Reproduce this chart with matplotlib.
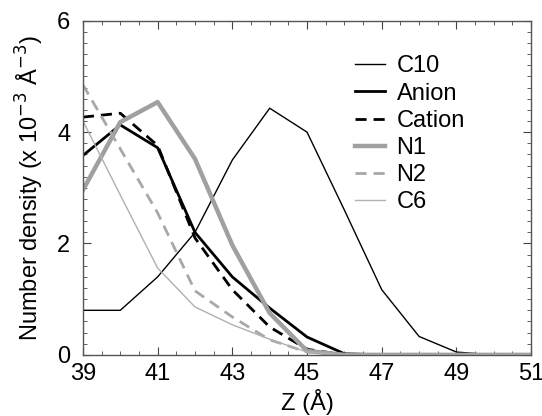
import numpy as np
import matplotlib.pyplot as plt
from matplotlib.ticker import MultipleLocator

plt.rcParams['font.family'] = ['Liberation Sans', 'DejaVu Sans']

z = [39, 40, 41, 42, 43, 44, 45, 46, 47, 48, 49, 50, 51]
c10 = [0.8, 0.8, 1.4, 2.2, 3.5, 4.43, 4.0, 2.6, 1.17, 0.33, 0.05, 0.0, 0.0]
anion = [3.58, 4.13, 3.72, 2.2, 1.4, 0.84, 0.32, 0.02, 0.0, 0.0, 0.0, 0.0, 0.0]
cation = [4.27, 4.34, 3.76, 2.1, 1.17, 0.5, 0.1, 0.0, 0.0, 0.0, 0.0, 0.0, 0.0]
n1 = [2.96, 4.18, 4.54, 3.52, 1.97, 0.75, 0.07, 0.0, 0.0, 0.0, 0.0, 0.0, 0.0]
n2 = [4.85, 3.7, 2.55, 1.15, 0.68, 0.27, 0.05, 0.0, 0.0, 0.0, 0.0, 0.0, 0.0]
c6 = [4.2, 2.87, 1.56, 0.86, 0.54, 0.28, 0.05, 0.0, 0.0, 0.0, 0.0, 0.0, 0.0]
xticks = [39, 41, 43, 45, 47, 49, 51]
yticks = [0, 2, 4, 6]

fig = plt.figure(figsize=(5.42, 4.16), dpi=100)
ax = fig.add_axes([0.153, 0.147, 0.827, 0.803])

ax.plot(z, c10, color='black', lw=1.0, label='C10')
ax.plot(z, anion, color='black', lw=2.0, label='Anion')
ax.plot(z, cation, color='black', lw=2.0, ls=(0, (4, 2.5)), label='Cation')
ax.plot(z, n1, color='#a0a0a0', lw=3.2, label='N1')
ax.plot(z, n2, color='#a8a8a8', lw=2.0, ls=(0, (4, 2.5)), label='N2')
ax.plot(z, c6, color='#b0b0b0', lw=1.0, label='C6')

ax.set_xlim(39, 51)
ax.set_ylim(0, 6)
ax.set_xticks(xticks)
ax.set_yticks(yticks)
ax.xaxis.set_minor_locator(MultipleLocator(0.5))
ax.yaxis.set_minor_locator(MultipleLocator(0.2))
ax.tick_params(which='both', direction='in', top=True, right=True,
               labelsize=17, color='#444444')
ax.tick_params(which='major', length=6, width=0.8)
ax.tick_params(axis='x', which='major', pad=6)
ax.tick_params(axis='y', which='major', pad=9)
ax.tick_params(which='minor', length=3, width=0.6)
for s in ax.spines.values():
    s.set_color('#555555')
    s.set_linewidth(1.0)

ax.set_xlabel('Z (Å)', fontsize=17, labelpad=3)
ax.set_ylabel('Number density (x 10$^{-3}$ Å$^{-3}$)', fontsize=17, labelpad=8)

ax.legend(loc='upper left', bbox_to_anchor=(0.56, 0.96), frameon=False,
          fontsize=17, handlelength=1.25, handletextpad=0.5, labelspacing=0.22)

fig.savefig('out.png', dpi=100)
